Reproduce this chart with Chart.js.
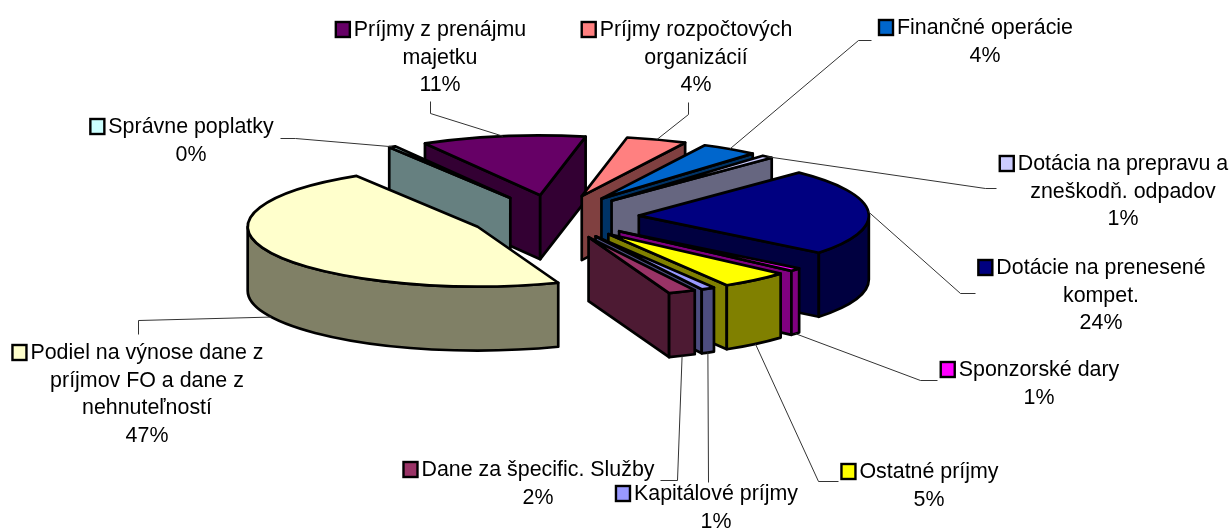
<!DOCTYPE html>
<html>
<head>
<meta charset="utf-8">
<title>Príjmy</title>
<script src="https://cdn.jsdelivr.net/npm/chart.js@4"></script>
<style>
  html, body { margin: 0; padding: 0; background: #fff; }
  canvas { display: block; }
</style>
</head>
<body>
<canvas id="pie" width="1231" height="530"></canvas>
<script>
// values (clockwise, starting at the big slice)
const categories = ['Podiel na výnose dane z príjmov FO a dane z nehnuteľností', 'Správne poplatky', 'Príjmy z prenájmu majetku', 'Príjmy rozpočtových organizácií', 'Finančné operácie', 'Dotácia na prepravu a zneškodň. odpadov', 'Dotácie na prenesené kompet.', 'Sponzorské dary', 'Ostatné príjmy', 'Kapitálové príjmy', 'Dane za špecific. Služby'];
const values = [46.8, 0.47, 11.5, 4.25, 4.0, 0.83, 23.4, 0.83, 4.86, 0.97, 1.94];
const percentLabels = ['47%', '0%', '11%', '4%', '4%', '1%', '24%', '1%', '5%', '1%', '2%'];
const labelLines = [
  ['Podiel na výnose dane z', 'príjmov FO a dane z', 'nehnuteľností'],
  ['Správne poplatky'],
  ['Príjmy z prenájmu', 'majetku'],
  ['Príjmy rozpočtových', 'organizácií'],
  ['Finančné operácie'],
  ['Dotácia na prepravu a', 'zneškodň. odpadov'],
  ['Dotácie na prenesené', 'kompet.'],
  ['Sponzorské dary'],
  ['Ostatné príjmy'],
  ['Kapitálové príjmy'],
  ['Dane za špecific. Služby']
];
const colors = ['#FFFFCC', '#CCFFFF', '#660066', '#FF8080', '#0066CC', '#CCCCFF', '#000080', '#FF00FF', '#FFFF00', '#9999FF', '#993366'];
const wallColors = ['#808066', '#668080', '#330033', '#804040', '#003366', '#666680', '#000040', '#800080', '#808000', '#4D4D80', '#4D1A33'];

// layout of the label blocks: centre x, first line y, leader bends
const labelX = [147, 191, 440, 696, 985, 1123, 1101, 1039, 929, 716, 538];
const labelY = [353, 127, 30, 30, 28, 164, 268, 370, 472, 494, 470];
const leaderBends = [
  [[138, 320], [138, 334]],
  [[295, 138], [280, 138]],
  [[430, 113], [430, 101]],
  [[688, 114], [688, 102]],
  [[858, 40], [871, 40]],
  [[985, 188], [996, 188]],
  [[960, 293], [975, 293]],
  [[920, 380], [937, 380]],
  [[818, 481], [838, 481]],
  [[708, 482]],
  [[677, 480], [660, 480]]
];

const squash = 0.26;
const depth = 64;
const lineHeight = 27.7;
const fontName = '21.4px "Liberation Sans", Arial, sans-serif';

function sliceCenter(arc) {
  const mid = (arc.startAngle + arc.endAngle) / 2;
  return {
    x: arc.x + Math.cos(mid) * arc.options.offset,
    y: arc.y + Math.sin(mid) * arc.options.offset * squash
  };
}

function wallQuad(ctx, c, arc, angle, fill) {
  const rx = arc.outerRadius * Math.cos(angle);
  const ry = arc.outerRadius * squash * Math.sin(angle);
  ctx.beginPath();
  ctx.moveTo(c.x, c.y);
  ctx.lineTo(c.x + rx, c.y + ry);
  ctx.lineTo(c.x + rx, c.y + ry + depth);
  ctx.lineTo(c.x, c.y + depth);
  ctx.closePath();
  ctx.fillStyle = fill;
  ctx.fill();
  ctx.stroke();
}

function outerWall(ctx, c, arc, fill) {
  const a = arc.outerRadius;
  const b = a * squash;
  // only the lower half of the rim faces the viewer
  for (let k = -1; k <= 1; k++) {
    const from = Math.max(arc.startAngle, k * 2 * Math.PI);
    const to = Math.min(arc.endAngle, k * 2 * Math.PI + Math.PI);
    if (to <= from) continue;
    ctx.beginPath();
    ctx.ellipse(c.x, c.y, a, b, 0, from, to);
    ctx.ellipse(c.x, c.y + depth, a, b, 0, to, from, true);
    ctx.closePath();
    ctx.fillStyle = fill;
    ctx.fill();
    ctx.stroke();
  }
}

const pie3d = {
  id: 'pie3d',
  beforeDatasetsDraw(chart) {
    const ctx = chart.ctx;
    const arcs = chart.getDatasetMeta(0).data;
    const order = arcs.map((arc, i) => i).sort((p, q) => sliceCenter(arcs[p]).y - sliceCenter(arcs[q]).y);
    ctx.save();
    ctx.strokeStyle = '#000';
    ctx.lineWidth = 2.7;
    ctx.lineJoin = 'round';
    order.forEach(i => {
      const arc = arcs[i];
      const c = sliceCenter(arc);
      if (Math.cos(arc.startAngle) < 0) wallQuad(ctx, c, arc, arc.startAngle, wallColors[i]);
      if (Math.cos(arc.endAngle) > 0) wallQuad(ctx, c, arc, arc.endAngle, wallColors[i]);
      outerWall(ctx, c, arc, wallColors[i]);
      ctx.beginPath();
      ctx.moveTo(c.x, c.y);
      ctx.ellipse(c.x, c.y, arc.outerRadius, arc.outerRadius * squash, 0, arc.startAngle, arc.endAngle);
      ctx.closePath();
      ctx.fillStyle = colors[i];
      ctx.fill();
      ctx.stroke();
    });
    ctx.restore();
    return false;
  },
  afterDraw(chart) {
    const ctx = chart.ctx;
    const arcs = chart.getDatasetMeta(0).data;
    ctx.save();
    // leader lines start on the rim at the middle of each slice
    ctx.strokeStyle = '#333';
    ctx.lineWidth = 1;
    arcs.forEach((arc, i) => {
      const c = sliceCenter(arc);
      const mid = (arc.startAngle + arc.endAngle) / 2;
      const sy = Math.sin(mid);
      ctx.beginPath();
      ctx.moveTo(c.x + arc.outerRadius * Math.cos(mid), c.y + arc.outerRadius * squash * sy + (sy > 0.2 ? depth : 0));
      leaderBends[i].forEach(p => ctx.lineTo(p[0] + 0.5, p[1] + 0.5));
      ctx.stroke();
    });
    ctx.font = fontName;
    ctx.textBaseline = 'middle';
    ctx.textAlign = 'center';
    ctx.fillStyle = '#000';
    categories.forEach((name, i) => {
      const lines = labelLines[i].concat(percentLabels[i]);
      lines.forEach((text, n) => ctx.fillText(text, labelX[i], labelY[i] + n * lineHeight));
      // legend key in front of the first line
      const w = ctx.measureText(lines[0]).width;
      const kx = labelX[i] - w / 2 - 18;
      ctx.fillStyle = colors[i];
      ctx.strokeStyle = '#000';
      ctx.lineWidth = 2.4;
      ctx.fillRect(kx, labelY[i] - 8, 14, 15);
      ctx.strokeRect(kx, labelY[i] - 8, 14, 15);
      ctx.fillStyle = '#000';
    });
    ctx.restore();
  }
};

new Chart(document.getElementById('pie'), {
  type: 'pie',
  data: {
    labels: categories,
    datasets: [{
      data: values,
      backgroundColor: colors,
      borderWidth: 0,
      offset: 85
    }]
  },
  options: {
    responsive: false,
    animation: false,
    radius: 230,
    rotation: 159.5,
    layout: { padding: { right: 123, bottom: 96 } },
    plugins: {
      legend: { display: false },
      tooltip: { enabled: false }
    }
  },
  plugins: [pie3d]
});
</script>
</body>
</html>
